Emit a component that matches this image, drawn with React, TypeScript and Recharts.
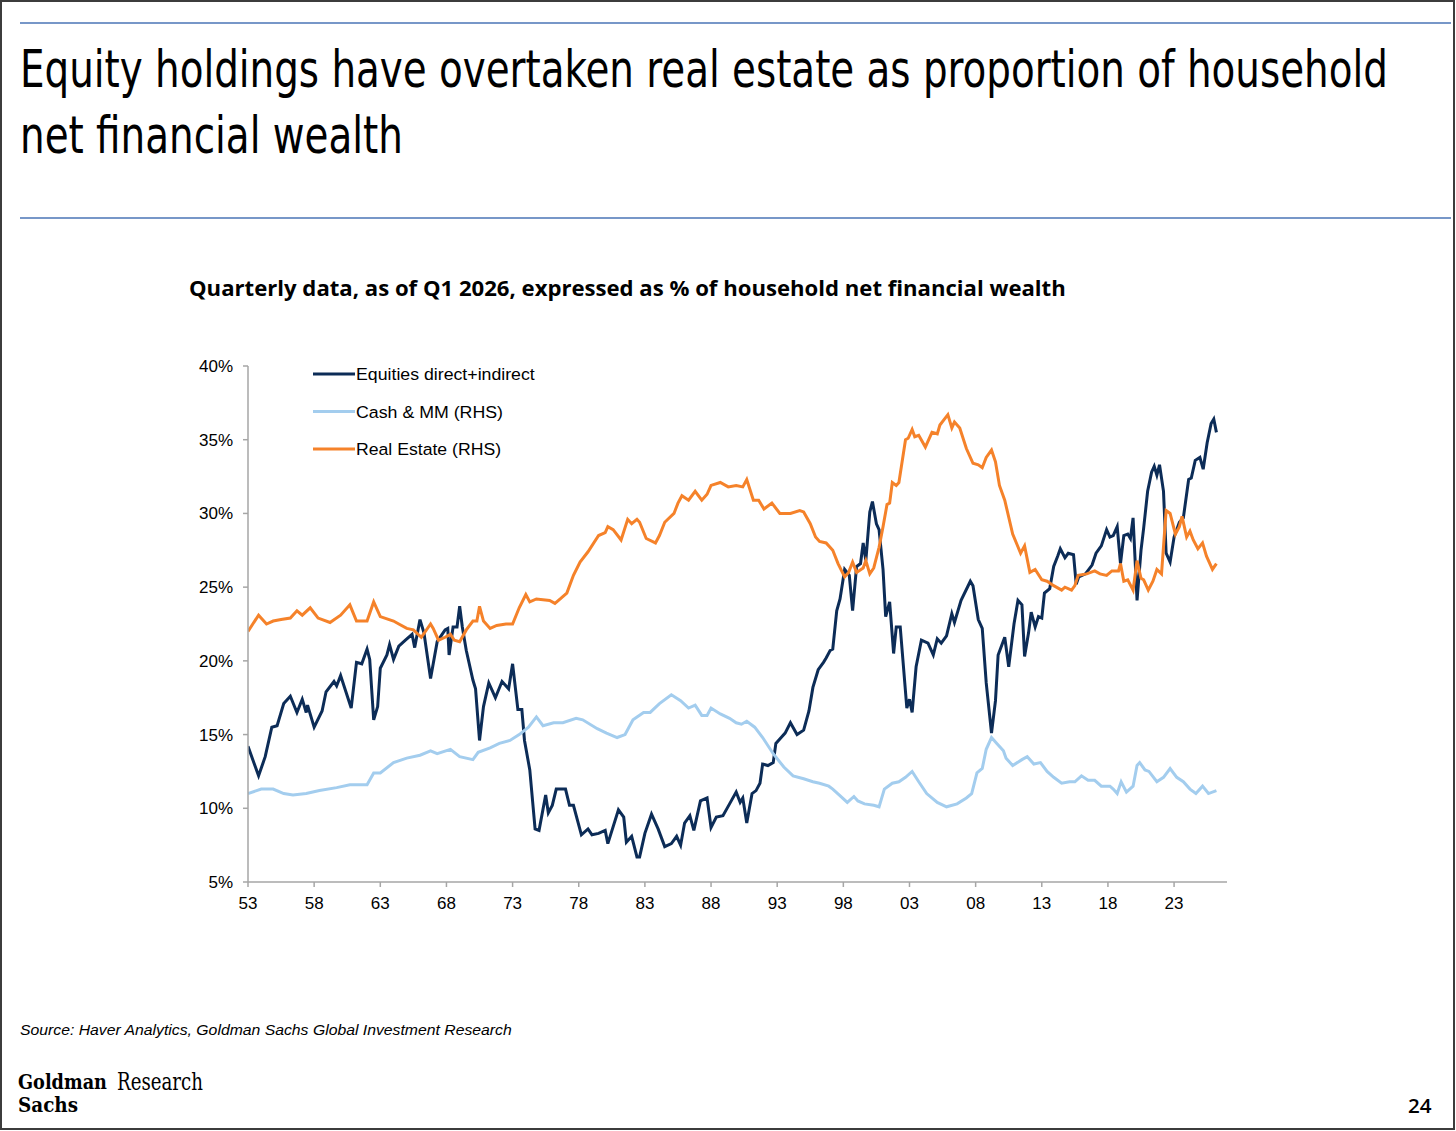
import React, { useLayoutEffect, useRef, useState } from "react";
import { LineChart, Line, XAxis, YAxis } from "recharts";

// ---- Data (year, % of household net financial wealth) ----
const equitiesSeries: [number, number][] = [
  [1953.0, 14.2], [1953.8, 12.2], [1954.3, 13.5], [1954.8, 15.5], [1955.2, 15.6], [1955.7, 17.1],
  [1956.2, 17.6], [1956.7, 16.5], [1957.1, 17.4], [1957.4, 16.5], [1957.5, 17.0], [1958.0, 15.5],
  [1958.6, 16.6], [1958.9, 17.9], [1959.5, 18.6], [1959.7, 18.3], [1960.0, 19.0], [1960.4, 17.9],
  [1960.8, 16.8], [1961.2, 19.9], [1961.6, 19.8], [1962.0, 20.8], [1962.2, 20.1], [1962.5, 16.0],
  [1962.8, 16.9], [1963.0, 19.5], [1963.5, 20.4], [1963.7, 21.1], [1964.0, 20.1], [1964.4, 21.0],
  [1964.9, 21.4], [1965.4, 21.8], [1965.6, 20.9], [1966.0, 22.8], [1966.3, 21.9], [1966.8, 18.8],
  [1967.3, 21.3], [1967.9, 22.1], [1968.1, 22.2], [1968.2, 20.4], [1968.5, 22.3], [1968.8, 22.3],
  [1969.0, 23.7], [1969.2, 22.3], [1969.5, 20.7], [1970.0, 18.7], [1970.2, 18.1], [1970.5, 14.6],
  [1970.8, 16.9], [1971.2, 18.5], [1971.7, 17.5], [1972.2, 18.6], [1972.7, 18.1], [1973.0, 19.8],
  [1973.4, 16.7], [1973.7, 16.7], [1973.9, 14.6], [1974.3, 12.6], [1974.7, 8.6], [1975.0, 8.5],
  [1975.5, 10.9], [1975.7, 9.7], [1976.0, 10.2], [1976.3, 11.3], [1977.0, 11.3], [1977.3, 10.2],
  [1977.6, 10.2], [1978.2, 8.2], [1978.7, 8.6], [1979.0, 8.2], [1979.5, 8.3], [1980.0, 8.5],
  [1980.2, 7.6], [1981.0, 9.9], [1981.4, 9.4], [1981.6, 7.7], [1982.0, 8.1], [1982.4, 6.7],
  [1982.6, 6.7], [1983.0, 8.3], [1983.5, 9.6], [1984.0, 8.6], [1984.5, 7.4], [1985.0, 7.6],
  [1985.4, 8.1], [1985.7, 7.5], [1986.0, 9.0], [1986.4, 9.5], [1986.7, 8.5], [1987.2, 10.5],
  [1987.7, 10.7], [1988.0, 8.7], [1988.4, 9.4], [1988.9, 9.5], [1989.4, 10.3], [1989.9, 11.1],
  [1990.2, 10.4], [1990.4, 10.7], [1990.7, 9.0], [1991.1, 11.0], [1991.4, 11.2], [1991.7, 11.7],
  [1991.9, 13.0], [1992.3, 12.9], [1992.7, 13.1], [1992.9, 14.4], [1993.3, 14.8], [1993.6, 15.1],
  [1994.0, 15.8], [1994.5, 15.0], [1995.0, 15.3], [1995.4, 16.6], [1995.7, 18.2], [1996.1, 19.4],
  [1996.5, 19.9], [1996.7, 20.2], [1997.0, 20.7], [1997.2, 20.8], [1997.5, 23.4], [1997.75, 24.2],
  [1998.1, 26.2], [1998.45, 25.8], [1998.7, 23.4], [1999.0, 26.4], [1999.3, 26.6], [1999.5, 28.0],
  [1999.7, 26.8], [2000.0, 30.1], [2000.2, 30.8], [2000.5, 29.3], [2000.7, 28.9], [2001.0, 26.2],
  [2001.2, 23.0], [2001.5, 24.0], [2001.8, 20.5], [2002.0, 22.3], [2002.3, 22.3], [2002.8, 16.8],
  [2003.0, 17.4], [2003.2, 16.5], [2003.5, 19.6], [2003.9, 21.4], [2004.4, 21.2], [2004.8, 20.4],
  [2005.1, 21.5], [2005.4, 21.2], [2005.8, 21.7], [2006.2, 23.2], [2006.4, 22.6], [2006.9, 24.1],
  [2007.6, 25.4], [2007.8, 25.1], [2008.2, 22.8], [2008.5, 22.2], [2008.8, 18.5], [2009.2, 15.1],
  [2009.5, 17.3], [2009.7, 20.4], [2010.2, 21.6], [2010.5, 19.6], [2010.9, 22.5], [2011.2, 24.1],
  [2011.5, 23.8], [2011.7, 20.3], [2012.0, 21.9], [2012.2, 23.3], [2012.5, 22.3], [2012.75, 23.0],
  [2013.0, 22.9], [2013.2, 24.6], [2013.6, 24.9], [2013.9, 26.4], [2014.2, 27.1], [2014.4, 27.6],
  [2014.75, 27.0], [2015.0, 27.3], [2015.4, 27.2], [2015.6, 25.2], [2015.8, 25.7], [2016.3, 25.9],
  [2016.8, 26.5], [2017.1, 27.3], [2017.5, 27.8], [2017.9, 28.9], [2018.15, 28.4], [2018.4, 28.5],
  [2018.7, 29.1], [2018.95, 26.6], [2019.2, 28.5], [2019.5, 28.6], [2019.7, 28.3], [2019.9, 29.7],
  [2020.2, 24.1], [2020.5, 27.5], [2020.7, 29.0], [2021.0, 31.5], [2021.3, 32.8], [2021.5, 33.2],
  [2021.7, 32.6], [2021.9, 33.3], [2022.2, 31.5], [2022.4, 27.3], [2022.7, 26.7], [2023.0, 28.4],
  [2023.4, 29.4], [2023.7, 29.7], [2024.1, 32.3], [2024.3, 32.4], [2024.6, 33.6], [2024.95, 33.8],
  [2025.2, 33.0], [2025.5, 34.8], [2025.8, 36.1], [2026.0, 36.4], [2026.2, 35.5],
];

const cashSeries: [number, number][] = [
  [1953.0, 11.0], [1954.0, 11.3], [1954.9, 11.3], [1955.7, 11.0], [1956.4, 10.9], [1957.4, 11.0],
  [1958.4, 11.2], [1959.7, 11.4], [1960.7, 11.6], [1962.0, 11.6], [1962.5, 12.4], [1963.0, 12.4],
  [1964.0, 13.1], [1965.0, 13.4], [1966.0, 13.6], [1966.8, 13.9], [1967.3, 13.7], [1968.3, 14.0],
  [1969.0, 13.5], [1970.0, 13.3], [1970.4, 13.8], [1971.3, 14.1], [1972.0, 14.4], [1972.8, 14.6],
  [1973.5, 15.0], [1974.2, 15.5], [1974.8, 16.2], [1975.3, 15.6], [1976.1, 15.8], [1976.8, 15.8],
  [1977.8, 16.1], [1978.3, 16.0], [1979.4, 15.4], [1980.1, 15.1], [1980.9, 14.8], [1981.5, 15.0],
  [1982.1, 16.0], [1982.9, 16.5], [1983.4, 16.5], [1984.1, 17.1], [1985.0, 17.7], [1985.7, 17.3],
  [1986.3, 16.8], [1986.8, 17.0], [1987.3, 16.3], [1987.7, 16.3], [1988.0, 16.8], [1988.7, 16.4],
  [1989.4, 16.1], [1989.9, 15.8], [1990.3, 15.7], [1990.7, 15.9], [1991.3, 15.5], [1991.9, 14.8],
  [1992.7, 13.7], [1993.5, 12.8], [1994.2, 12.2], [1995.0, 12.0], [1995.7, 11.8], [1996.2, 11.7],
  [1996.9, 11.5], [1997.2, 11.3], [1997.7, 10.9], [1998.3, 10.4], [1998.8, 10.8], [1999.1, 10.5],
  [1999.6, 10.3], [2000.3, 10.2], [2000.7, 10.1], [2001.1, 11.3], [2001.7, 11.7], [2002.2, 11.8],
  [2002.7, 12.1], [2003.2, 12.5], [2003.7, 11.8], [2004.3, 11.0], [2005.1, 10.4], [2005.8, 10.1],
  [2006.6, 10.3], [2007.3, 10.7], [2007.7, 11.0], [2008.1, 12.4], [2008.5, 12.7], [2008.8, 14.0],
  [2009.2, 14.8], [2009.6, 14.4], [2010.1, 13.9], [2010.3, 13.4], [2010.8, 12.9], [2011.5, 13.3],
  [2011.9, 13.5], [2012.4, 13.0], [2012.9, 13.1], [2013.4, 12.5], [2013.9, 12.1], [2014.5, 11.7],
  [2015.1, 11.8], [2015.5, 11.8], [2016.0, 12.2], [2016.5, 11.9], [2017.0, 11.9], [2017.5, 11.5],
  [2018.15, 11.5], [2018.4, 11.3], [2018.7, 11.0], [2019.0, 11.8], [2019.4, 11.1], [2019.9, 11.5],
  [2020.2, 12.9], [2020.4, 13.1], [2020.8, 12.6], [2021.1, 12.5], [2021.7, 11.8], [2022.2, 12.1],
  [2022.7, 12.7], [2023.2, 12.1], [2023.7, 11.8], [2024.2, 11.3], [2024.65, 11.0], [2025.15, 11.5],
  [2025.6, 11.0], [2026.2, 11.2],
];

const realEstateSeries: [number, number][] = [
  [1953.0, 22.0], [1953.8, 23.1], [1954.4, 22.5], [1954.9, 22.7], [1955.5, 22.8], [1956.2, 22.9],
  [1956.7, 23.4], [1957.1, 23.1], [1957.7, 23.6], [1958.3, 22.9], [1959.2, 22.6], [1960.0, 23.1],
  [1960.7, 23.8], [1961.2, 22.7], [1962.0, 22.7], [1962.5, 24.0], [1963.0, 23.0], [1964.0, 22.7],
  [1964.4, 22.5], [1965.0, 22.2], [1965.5, 22.1], [1966.1, 21.6], [1966.8, 22.5], [1967.0, 22.2],
  [1967.4, 21.4], [1967.9, 21.6], [1968.3, 21.8], [1968.6, 21.4], [1969.0, 21.3], [1969.5, 22.1],
  [1970.0, 22.7], [1970.3, 22.7], [1970.5, 23.7], [1970.8, 22.7], [1971.3, 22.2], [1971.8, 22.4],
  [1972.5, 22.5], [1973.0, 22.5], [1973.5, 23.6], [1974.0, 24.5], [1974.3, 24.0], [1974.8, 24.2],
  [1975.8, 24.1], [1976.2, 23.9], [1976.6, 24.2], [1977.1, 24.6], [1977.6, 25.8], [1978.1, 26.7],
  [1978.7, 27.4], [1979.5, 28.5], [1980.0, 28.7], [1980.2, 29.1], [1980.6, 28.9], [1981.2, 28.2],
  [1981.7, 29.6], [1982.0, 29.3], [1982.4, 29.6], [1982.6, 29.4], [1983.1, 28.3], [1983.8, 28.0],
  [1984.1, 28.5], [1984.5, 29.4], [1985.2, 30.0], [1985.5, 30.7], [1985.8, 31.2], [1986.3, 30.9],
  [1986.8, 31.5], [1987.3, 30.9], [1987.7, 31.3], [1988.0, 31.9], [1988.7, 32.1], [1989.3, 31.8],
  [1989.9, 31.9], [1990.4, 31.8], [1990.7, 32.3], [1991.2, 30.9], [1991.6, 30.9], [1992.0, 30.3],
  [1992.6, 30.7], [1993.2, 30.0], [1994.0, 30.0], [1994.7, 30.2], [1995.0, 30.1], [1995.5, 29.3],
  [1995.9, 28.4], [1996.2, 28.1], [1996.7, 28.0], [1997.2, 27.5], [1997.6, 26.6], [1998.1, 25.7],
  [1998.4, 26.0], [1998.7, 26.7], [1999.0, 26.0], [1999.5, 26.3], [1999.7, 26.8], [2000.0, 25.9],
  [2000.3, 26.3], [2000.7, 27.7], [2001.0, 29.1], [2001.3, 30.6], [2001.5, 30.7], [2001.7, 32.1],
  [2002.0, 31.9], [2002.2, 32.1], [2002.7, 35.0], [2002.9, 35.1], [2003.2, 35.7], [2003.4, 35.2],
  [2003.7, 35.3], [2004.2, 34.5], [2004.7, 35.5], [2005.1, 35.4], [2005.3, 36.0], [2005.9, 36.7],
  [2006.2, 35.8], [2006.4, 36.2], [2006.8, 35.8], [2007.3, 34.4], [2007.8, 33.4], [2008.2, 33.3],
  [2008.5, 33.1], [2008.8, 33.8], [2009.2, 34.3], [2009.5, 33.5], [2009.8, 31.9], [2010.2, 30.9],
  [2010.8, 28.6], [2011.4, 27.3], [2011.7, 27.8], [2012.1, 26.0], [2012.5, 26.2], [2013.0, 25.5],
  [2013.4, 25.4], [2013.9, 25.1], [2014.5, 24.8], [2014.75, 25.0], [2015.25, 24.8], [2015.5, 25.1],
  [2015.75, 25.8], [2016.4, 25.9], [2017.0, 26.1], [2017.4, 25.9], [2017.9, 25.8], [2018.3, 26.1],
  [2018.8, 26.1], [2018.95, 26.6], [2019.2, 25.4], [2019.5, 25.5], [2019.9, 24.8], [2020.2, 26.8],
  [2020.5, 25.6], [2020.7, 25.5], [2021.05, 24.8], [2021.4, 25.4], [2021.7, 26.2], [2022.05, 25.9],
  [2022.4, 30.2], [2022.7, 30.0], [2023.1, 28.6], [2023.4, 29.1], [2023.6, 29.8], [2023.95, 28.4],
  [2024.2, 28.8], [2024.45, 28.2], [2024.8, 27.6], [2025.15, 28.0], [2025.45, 27.1], [2025.9, 26.2],
  [2026.2, 26.6],
];

const xTicks = [1953, 1958, 1963, 1968, 1973, 1978, 1983, 1988, 1993, 1998, 2003, 2008, 2013, 2018, 2023];
const yTicks = [5, 10, 15, 20, 25, 30, 35, 40];

const seriesNames = ["Equities direct+indirect", "Cash & MM (RHS)", "Real Estate (RHS)"];
const seriesColors = ["#0C2C57", "#A3CDEE", "#F5822A"];

const titleLines = [
  "Equity holdings have overtaken real estate as proportion of household",
  "net financial wealth",
];
const subtitle = "Quarterly data, as of Q1 2026, expressed as % of household net financial wealth";
const sourceText = "Source: Haver Analytics, Goldman Sachs Global Investment Research";

const toPoints = (s: [number, number][]) => s.map(([x, y]) => ({ x, y }));

const AXIS_GREY = "#A6A6A6";
const ARIAL = "'Liberation Sans', Arial, Helvetica, sans-serif";
const CONDENSED = "'Liberation Sans Narrow', 'DejaVu Sans Condensed', 'DejaVu Sans', sans-serif";
const SERIF_COND = "'DejaVu Serif Condensed', 'DejaVu Serif', 'Liberation Serif', serif";

type FitProps = {
  x: number;
  y?: number;
  width: number;
  children: React.ReactNode;
  [k: string]: any;
};

// Text squeezed horizontally (via transform) to a measured target width.
function FitText({ x, y = 0, width, children, ...rest }: FitProps) {
  const ref = useRef<SVGTextElement>(null);
  const [s, setS] = useState(1);
  useLayoutEffect(() => {
    const el = ref.current;
    if (!el) return;
    const measure = () => {
      const w = el.getBBox().width;
      if (w > 0) setS(width / w);
    };
    measure();
    if ((document as any).fonts && (document as any).fonts.ready) {
      (document as any).fonts.ready.then(measure);
    }
  }, [width]);
  return (
    <text ref={ref} transform={`translate(${x},${y}) scale(${s},1)`} {...rest}>
      {children}
    </text>
  );
}

export default function App() {
  const seriesData = [toPoints(equitiesSeries), toPoints(cashSeries), toPoints(realEstateSeries)];
  const legendWidths = [179, 147, 145];
  return (
    <div style={{ position: "relative", width: 1456, height: 1131, background: "#ffffff", overflow: "hidden" }}>
      <style>{"body{margin:0;}"}</style>
      <div style={{ position: "absolute", left: 0, top: 0 }}>
        <LineChart width={1456} height={1131} margin={{ top: 366, right: 229, bottom: 219, left: 188 }}>
          <XAxis
            type="number"
            dataKey="x"
            domain={[1953, 2027]}
            ticks={xTicks}
            allowDataOverflow
            tickFormatter={(v: number) => String(v % 100).padStart(2, "0")}
            height={30}
            stroke={AXIS_GREY}
            strokeWidth={1.5}
            tickSize={5}
            tickMargin={10}
            tick={{ fill: "#000000", fontSize: 17, fontFamily: ARIAL }}
          />
          <YAxis
            type="number"
            dataKey="y"
            domain={[5, 40]}
            ticks={yTicks}
            allowDataOverflow
            tickFormatter={(v: number) => `${v}%`}
            width={60}
            stroke={AXIS_GREY}
            strokeWidth={1.5}
            tickSize={5}
            tickMargin={10}
            tick={{ fill: "#000000", fontSize: 17, fontFamily: ARIAL }}
          />
          {seriesData.map((d, i) => (
            <Line
              key={seriesNames[i]}
              data={d}
              dataKey="y"
              name={seriesNames[i]}
              type="linear"
              stroke={seriesColors[i]}
              strokeWidth={3}
              dot={false}
              activeDot={false}
              isAnimationActive={false}
            />
          ))}
        </LineChart>
      </div>
      <svg
        width={1456}
        height={1131}
        style={{ position: "absolute", left: 0, top: 0, pointerEvents: "none" }}
      >
        <rect x={1} y={1} width={1453} height={1128} fill="none" stroke="#3C3C3C" strokeWidth={2} />
        <line x1={20} y1={23} x2={1451} y2={23} stroke="#7797C8" strokeWidth={2} />
        <line x1={20} y1={218} x2={1451} y2={218} stroke="#7797C8" strokeWidth={2} />
        <FitText x={20} y={87} width={1368} fontFamily={CONDENSED} fontSize={52} fill="#000">
          {titleLines[0]}
        </FitText>
        <FitText x={20} y={153} width={383} fontFamily={CONDENSED} fontSize={52} fill="#000">
          {titleLines[1]}
        </FitText>
        <FitText x={189} y={296} width={877} fontFamily="'Open Sans', 'Noto Sans', sans-serif" fontWeight={700} fontSize={21} fill="#000">
          {subtitle}
        </FitText>
        {seriesNames.map((n, i) => (
          <g key={n}>
            <line x1={313} y1={374 + i * 37.5} x2={355} y2={374 + i * 37.5} stroke={seriesColors[i]} strokeWidth={3} />
            <FitText x={356} y={380 + i * 37.5} width={legendWidths[i]} fontFamily={ARIAL} fontSize={17} fill="#000">
              {n}
            </FitText>
          </g>
        ))}
        <FitText x={20} y={1035} width={492} fontFamily={ARIAL} fontStyle="italic" fontSize={15} fill="#000">
          {sourceText}
        </FitText>
        <FitText x={18} y={1089} width={89} fontFamily={SERIF_COND} fontWeight={700} fontSize={20} fill="#000">
          Goldman
        </FitText>
        <FitText x={18} y={1112} width={60} fontFamily={SERIF_COND} fontWeight={700} fontSize={20} fill="#000">
          Sachs
        </FitText>
        <FitText x={117} y={1090} width={86} fontFamily={SERIF_COND} fontSize={24} fill="#000">
          Research
        </FitText>
        <FitText x={1408} y={1113} width={24} fontFamily="'Open Sans', 'Noto Sans', sans-serif" fontWeight={600} fontSize={20} fill="#000">
          24
        </FitText>
      </svg>
    </div>
  );
}
